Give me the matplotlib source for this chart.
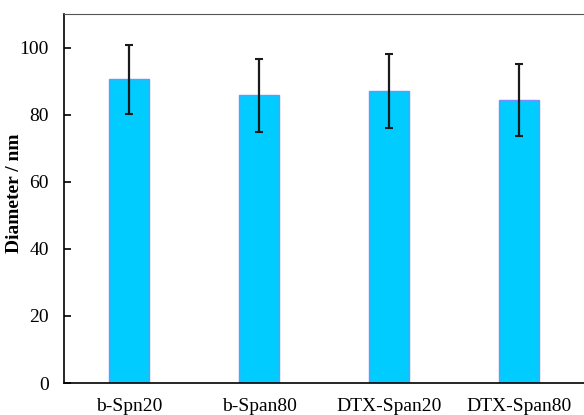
import matplotlib.pyplot as plt

plt.rcParams["font.family"] = ["Liberation Serif", "DejaVu Serif"]

# mean particle size and standard deviation per formulation
samples = ["b-Spn20", "b-Span80", "DTX-Span20", "DTX-Span80"]
diameter = [90.5, 85.8, 87.1, 84.4]
diameter_sd = [10.3, 10.9, 11.0, 10.7]

fig = plt.figure(figsize=(5.84, 4.15), dpi=100)
ax = fig.add_axes([0.1096, 0.0771, 0.8904, 0.8892])

x = range(len(samples))
ax.bar(x, diameter, width=0.314, color="#00CCFF", edgecolor="#7A8CFF",
       linewidth=1.0, zorder=2)
ax.errorbar(x, diameter, yerr=diameter_sd, fmt="none", ecolor="#1a1a1a",
            elinewidth=1.6, capsize=3, capthick=1.5, zorder=3)

ax.set_xlim(-0.5, 3.5)
ax.set_ylim(0, 110)
ax.set_yticks(range(0, 101, 20))
ax.set_xticks(list(x))
ax.set_xticklabels(samples)
ax.tick_params(axis="y", direction="in", length=5, width=1.2, labelsize=14, pad=11)
ax.tick_params(axis="x", length=0, labelsize=14, pad=11)
ax.set_ylabel("Diameter / nm", fontsize=14, fontweight="bold")
ax.yaxis.set_label_coords(-0.079, 0.515)

ax.spines["right"].set_visible(False)
ax.spines["left"].set_linewidth(1.2)
ax.spines["bottom"].set_linewidth(1.2)
ax.spines["top"].set_color("#555555")

fig.savefig("out.png", dpi=100)
